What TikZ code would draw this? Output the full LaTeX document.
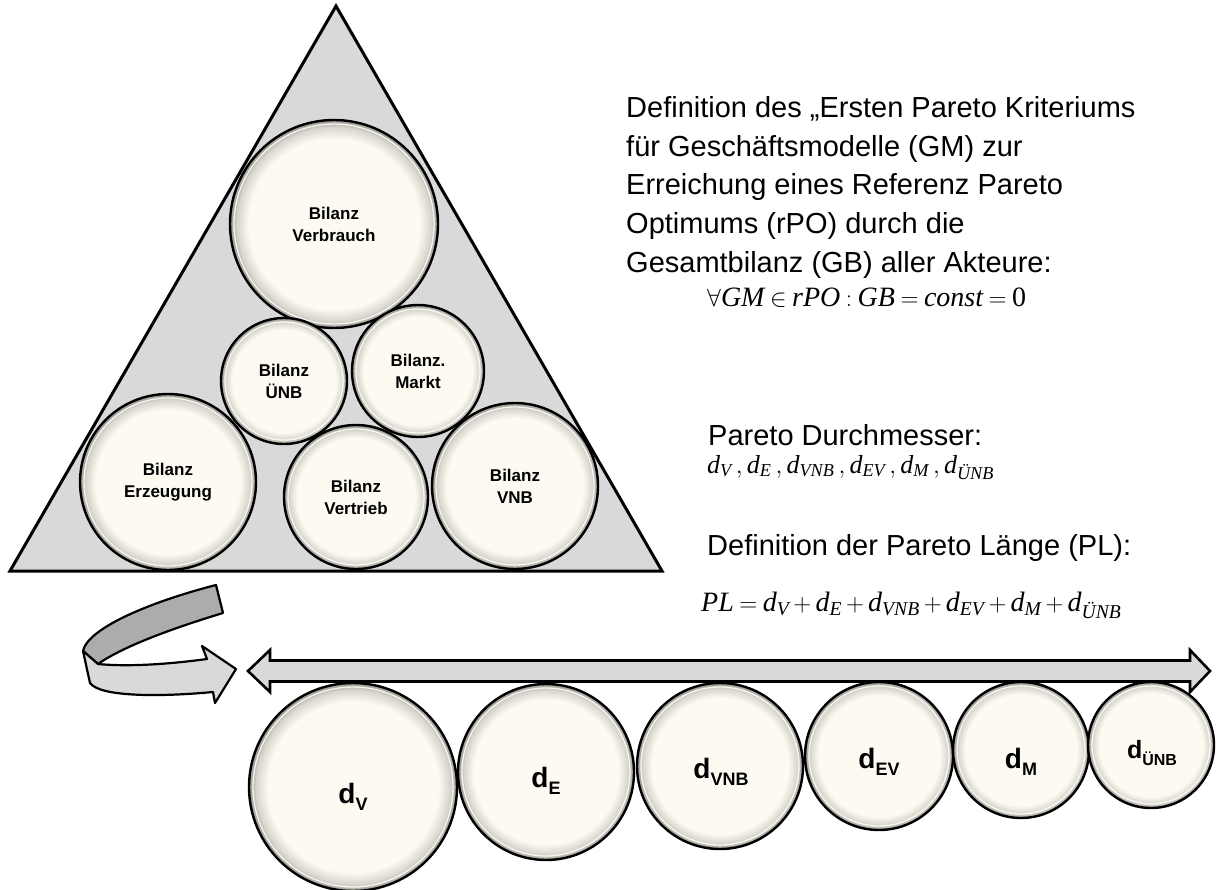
\documentclass[tikz,border=0pt]{standalone}
\usepackage{fontspec}
\usepackage{amsmath}
\setmainfont{Liberation Sans}
\newfontfamily\tms{Liberation Serif}
\usetikzlibrary{calc}

\definecolor{cream}{RGB}{252,250,241}
\definecolor{rimmid}{RGB}{214,212,203}
\definecolor{rimgray}{RGB}{150,148,140}
\definecolor{panelgray}{RGB}{217,217,217}
\definecolor{ribbongray}{RGB}{172,172,172}

% cream disc with a darker rim towards the edge
\pgfdeclareradialshading{ballshade}{\pgfpoint{0bp}{0bp}}{%
  color(0bp)=(cream); color(20.5bp)=(cream); color(23.4bp)=(rimmid);
  color(25bp)=(rimgray); color(50bp)=(rimgray)}

% italic serif letters for the formulas
\newcommand\mi[1]{\text{\tms\itshape #1}}
% narrower spacing around relations and binary operators
\newcommand\tightmath{\thickmuskip=4mu plus 1mu\relax\medmuskip=3mu plus 1mu\relax}
% lowered index for the bold labels
\newcommand\lowsub[1]{\raisebox{-0.28em}{\fontsize{18}{18}\selectfont #1}}
\newcommand\lowsubs[1]{\raisebox{-0.28em}{\fontsize{16}{16}\selectfont #1}}

% one balance disc: name, x, y, radius, text
\newcommand\drawball[5]{%
  \node[ball, minimum size=#4*2pt] (#1) at (#2,#3) {#5};
  \draw[ballhl] (#1.center) circle[radius=#4pt-4pt];}

\begin{document}
\begin{tikzpicture}[x=1pt, y=-1pt,
  ball/.style={circle, shade, shading=ballshade, draw=black, line width=2.4pt,
    inner sep=0pt, align=center, font=\bfseries\fontsize{17}{22}\selectfont},
  ballhl/.style={white, line width=1.3pt, opacity=0.85},
  tri/.style={fill=panelgray, draw=black, line width=3pt, line join=miter},
  dlab/.style={anchor=base, inner sep=0pt, font=\bfseries\fontsize{28}{30}\selectfont},
  bodytext/.style={inner sep=0pt, align=left, font=\fontsize{29}{38.8}\selectfont},
  formula/.style={anchor=base west, inner sep=0pt, font=\fontsize{28}{30}\selectfont},
  span/.style={fill=panelgray, draw=black, line width=2.6pt, line join=miter},
  ribbon/.style={draw=black, line width=2.2pt, line join=round}]

\useasboundingbox (0,0) rectangle (1217,890);

% pyramid of the balances
\coordinate (apex) at (336,6);
\coordinate (baseL) at (10,571);
\coordinate (baseR) at (662,571);
\draw[tri] (apex) -- (baseR) -- (baseL) -- cycle;

\drawball{verb}{334}{224}{104}{Bilanz\\Verbrauch}
\drawball{uenb}{284}{381}{63}{Bilanz\\ÜNB}
\drawball{markt}{418}{371}{66}{Bilanz.\\Markt}
\drawball{erz}{168}{482}{88}{Bilanz\\Erzeugung}
\drawball{vertr}{356}{497}{72}{Bilanz\\Vertrieb}
\drawball{vnb}{515}{486}{83}{Bilanz\\VNB}

% curved ribbon arrow
\filldraw[ribbon, fill=ribbongray] (216,585) -- (223,613)
  .. controls (180,626) and (125,645) .. (98,664)
  -- (83,651) .. controls (88,628) and (150,602) .. (216,585) -- cycle;
\filldraw[ribbon, fill=panelgray] (83,651) -- (90,683)
  .. controls (100,697) and (160,697) .. (213,692)
  -- (215,703) -- (236,669) -- (202,646) -- (207,659)
  .. controls (170,664) and (130,667) .. (98,664) -- cycle;

% double arrow above the row of diameters
\coordinate (spanL) at (248,671);
\coordinate (spanR) at (1210,671);
\draw[span] (spanL) -- ($(spanL)+(22,-21)$) -- ($(spanL)+(22,-10.5)$)
  -- ($(spanR)+(-20,-10.5)$) -- ($(spanR)+(-20,-21)$) -- (spanR)
  -- ($(spanR)+(-20,21)$) -- ($(spanR)+(-20,10.5)$)
  -- ($(spanL)+(22,10.5)$) -- ($(spanL)+(22,21)$) -- cycle;

% row of diameters
\drawball{bV}{353}{787}{104}{}
\drawball{bE}{546}{772}{88}{}
\drawball{bVNB}{720}{766}{83}{}
\drawball{bEV}{879}{756}{74}{}
\drawball{bM}{1021}{750}{68}{}
\drawball{bUNB}{1151}{745}{63}{}

\node[dlab] (lV) at (353,803) {d\lowsub{V}};
\node[dlab] (lE) at (546,787) {d\lowsub{E}};
\node[dlab] (lVNB) at (721,778) {d\lowsub{VNB}};
\node[dlab] (lEV) at (879,768) {d\lowsub{EV}};
\node[dlab] (lM) at (1021,768) {d\lowsub{M}};
\node[dlab, font=\bfseries\fontsize{25}{27}\selectfont] (lUNB) at (1152,758) {d\lowsubs{ÜNB}};

% definitions on the right
\node[bodytext, anchor=north west] (crit) at (626,96)
  {Definition des „Ersten Pareto Kriteriums\\
   für Geschäftsmodelle (GM) zur\\
   Erreichung eines Referenz Pareto\\
   Optimums (rPO) durch die\\
   Gesamtbilanz (GB) aller Akteure:};
\node[formula] (rpo) at (707,306)
  {\tightmath$\forall \mi{GM} \in \mi{rPO} : \mi{GB} = \mi{const} = \text{\tms 0}$};

\node[bodytext, anchor=base west] (durch) at (708,445) {Pareto Durchmesser:};
\node[formula, font=\fontsize{26}{30}\selectfont] (dlist) at (707,473)
  {$\mi{d}_{\mi{V}}\,,\mi{d}_{\mi{E}}\,,\mi{d}_{\mi{VNB}}\,,\mi{d}_{\mi{EV}}\,,\mi{d}_{\mi{M}}\,,\mi{d}_{\mi{ÜNB}}$};

\node[bodytext, anchor=base west] (laenge) at (707,555) {Definition der Pareto Länge (PL):};
\node[formula] (pl) at (701,611)
  {\tightmath$\mi{PL} = \mi{d}_{\mi{V}} + \mi{d}_{\mi{E}} + \mi{d}_{\mi{VNB}} + \mi{d}_{\mi{EV}} + \mi{d}_{\mi{M}} + \mi{d}_{\mi{ÜNB}}$};

\end{tikzpicture}
\end{document}
